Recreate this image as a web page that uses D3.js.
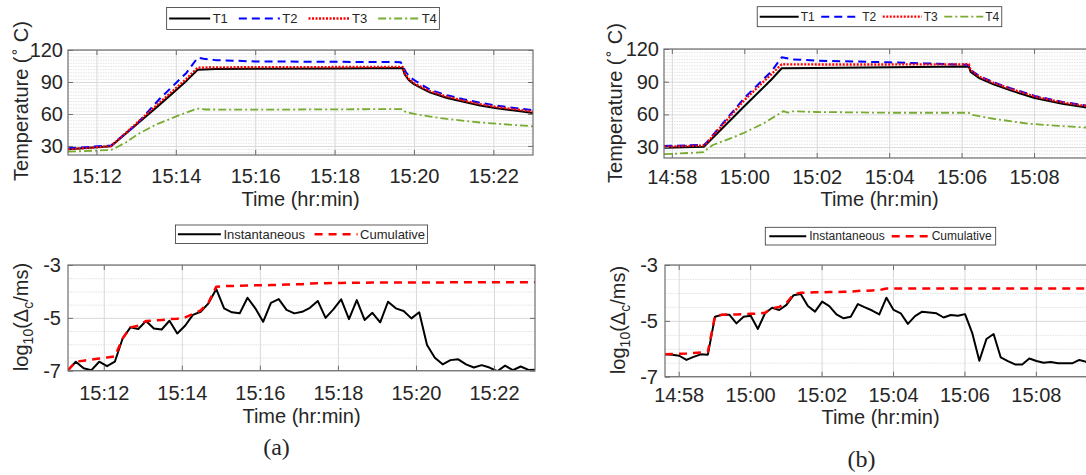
<!DOCTYPE html>
<html>
<head>
<meta charset="utf-8">
<script src="https://cdn.jsdelivr.net/npm/d3@7"></script>
<style>
  html, body { margin: 0; padding: 0; background: #fff; overflow: hidden; }
  svg { display: block; }
</style>
</head>
<body>
<svg id="fig" width="1086" height="475"></svg>
<script>
// ---- data ----
const tempNames = ["T1", "T2", "T3", "T4"];
const logNames = ["Instantaneous", "Cumulative"];
const tempTicks = [30, 60, 90, 120];
const logTicks = [-7, -5, -3];

// (a) temperatures [time, °C]
const t1A = [["15:11:17", 27.0], ["15:12:22", 29.8], ["15:13:36", 69], ["15:14:16", 91], ["15:14:33", 101.5],
  ["15:15:00", 102.1], ["15:16:00", 102.4], ["15:18:00", 102.7], ["15:19:43", 103.0], ["15:19:46", 97],
  ["15:19:52", 92], ["15:20:00", 88], ["15:20:12", 84], ["15:20:25", 80], ["15:20:50", 75], ["15:21:15", 71.5],
  ["15:21:40", 68], ["15:22:05", 65.3], ["15:22:35", 63], ["15:23:00", 61]];
const t2A = [["15:11:17", 27.8], ["15:12:22", 30.4], ["15:13:00", 50], ["15:13:36", 74.5], ["15:14:16", 98.5],
  ["15:14:33", 112.8], ["15:14:42", 111.8], ["15:15:00", 110.5], ["15:16:00", 109.3], ["15:19:40", 108.6],
  ["15:19:44", 104], ["15:19:48", 99], ["15:19:55", 94], ["15:20:05", 90], ["15:20:25", 82.5], ["15:20:50", 77.5],
  ["15:21:15", 73.8], ["15:21:40", 70.5], ["15:22:05", 67.8], ["15:22:35", 65.3], ["15:23:00", 63.5]];
const t3A = [["15:11:17", 26.8], ["15:12:22", 29.8], ["15:13:36", 71], ["15:14:16", 93], ["15:14:33", 103.5],
  ["15:15:30", 103.8], ["15:19:43", 104.2], ["15:19:46", 98], ["15:19:52", 93], ["15:20:00", 89], ["15:20:12", 85],
  ["15:20:25", 81.2], ["15:20:50", 76.2], ["15:21:15", 72.6], ["15:21:40", 69.2], ["15:22:05", 66.5],
  ["15:22:35", 64.2], ["15:23:00", 62.2]];
const t4A = [["15:11:17", 24.6], ["15:12:22", 26.2], ["15:12:30", 28.5], ["15:12:45", 33.5], ["15:13:04", 41.5],
  ["15:13:30", 50], ["15:14:06", 59], ["15:14:32", 65], ["15:14:45", 64.2], ["15:16:00", 64.0], ["15:19:43", 64.6],
  ["15:19:47", 62], ["15:20:00", 60], ["15:20:25", 57.5], ["15:20:50", 55.3], ["15:21:40", 52], ["15:22:35", 49.5],
  ["15:23:00", 48.4]];

// (b) temperatures [time, °C]
const t1B = [["14:57:47", 29.3], ["14:58:53", 30.3], ["14:58:58", 33], ["15:00:00", 67.5], ["15:00:45", 92],
  ["15:01:02", 102.3], ["15:02:00", 102.5], ["15:04:00", 103.3], ["15:06:12", 104], ["15:06:15", 99],
  ["15:06:30", 93], ["15:06:53", 87.5], ["15:07:21", 82], ["15:08:01", 75], ["15:08:47", 69.8], ["15:09:25", 66.5],
  ["15:10:00", 64]];
const t2B = [["14:57:47", 31.0], ["14:58:53", 32.0], ["14:58:58", 34.5], ["15:00:00", 75], ["15:00:45", 99.5],
  ["15:01:02", 112.4], ["15:01:20", 110.5], ["15:02:00", 109.3], ["15:04:00", 107.8], ["15:05:00", 106.8],
  ["15:06:10", 105.5], ["15:06:14", 101], ["15:06:30", 95], ["15:06:53", 89.5], ["15:07:21", 84], ["15:08:01", 77],
  ["15:08:47", 71.5], ["15:09:25", 68.2], ["15:10:00", 65.7]];
const t3B = [["14:57:47", 30.3], ["14:58:53", 31.5], ["14:58:58", 34], ["15:00:00", 73], ["15:00:45", 97],
  ["15:01:02", 106], ["15:02:00", 105.8], ["15:04:00", 105.8], ["15:06:12", 106], ["15:06:15", 100.5],
  ["15:06:30", 94.5], ["15:06:53", 89], ["15:07:21", 83.5], ["15:08:01", 76.5], ["15:08:47", 71], ["15:09:25", 67.8],
  ["15:10:00", 65.3]];
const t4B = [["14:57:47", 23.5], ["14:58:53", 25.3], ["14:58:58", 28], ["14:59:08", 31.9], ["14:59:35", 37.5],
  ["15:00:00", 43.2], ["15:00:32", 51.8], ["15:01:05", 63], ["15:01:12", 61.6], ["15:01:20", 62.8], ["15:02:00", 62.2],
  ["15:04:00", 61.5], ["15:06:12", 61.5], ["15:06:18", 59.5], ["15:06:53", 56], ["15:07:50", 51.5], ["15:08:40", 49.5],
  ["15:09:25", 48], ["15:10:00", 47.2]];

// (a) log10 of the indicator
const logTimesA = ["15:11:05", "15:11:17", "15:11:29", "15:11:41", "15:11:53", "15:12:05", "15:12:17", "15:12:29",
  "15:12:41", "15:12:53", "15:13:05", "15:13:17", "15:13:29", "15:13:41", "15:13:53", "15:14:05", "15:14:17",
  "15:14:29", "15:14:41", "15:14:53", "15:15:05", "15:15:17", "15:15:29", "15:15:41", "15:15:53", "15:16:05",
  "15:16:17", "15:16:29", "15:16:41", "15:16:53", "15:17:05", "15:17:17", "15:17:29", "15:17:41", "15:17:53",
  "15:18:05", "15:18:17", "15:18:29", "15:18:41", "15:18:53", "15:19:05", "15:19:17", "15:19:29", "15:19:41",
  "15:19:53", "15:20:05", "15:20:17", "15:20:29", "15:20:41", "15:20:53", "15:21:05", "15:21:17", "15:21:29",
  "15:21:41", "15:21:53", "15:22:05", "15:22:17", "15:22:29", "15:22:41", "15:22:53", "15:23:05"];
const instA = [-6.98, -6.66, -6.91, -6.98, -6.66, -6.83, -6.66, -5.78, -5.36, -5.42, -5.12, -5.40, -5.44, -5.11,
  -5.59, -5.30, -4.89, -4.77, -4.45, -3.91, -4.64, -4.79, -4.83, -4.24, -4.64, -5.15, -4.43, -4.29, -4.70, -4.83,
  -4.77, -4.62, -4.36, -5.00, -4.68, -4.30, -5.05, -4.33, -5.08, -4.81, -5.17, -4.39, -4.64, -4.74, -5.02, -4.79,
  -6.03, -6.51, -6.76, -6.60, -6.57, -6.76, -6.88, -6.79, -6.88, -7.02, -6.81, -6.98, -6.84, -6.97, -6.96];
const cumA = [-6.98, -6.66, -6.62, -6.58, -6.54, -6.50, -6.46, -5.78, -5.36, -5.30, -5.12, -5.10, -5.08, -5.05,
  -5.03, -4.98, -4.86, -4.72, -4.42, -3.82, -3.80, -3.79, -3.79, -3.78, -3.77, -3.77, -3.76, -3.75, -3.74, -3.73,
  -3.73, -3.70, -3.69, -3.69, -3.68, -3.68, -3.67, -3.67, -3.67, -3.66, -3.66, -3.66, -3.66, -3.66, -3.66, -3.66,
  -3.66, -3.66, -3.66, -3.65, -3.65, -3.65, -3.65, -3.65, -3.65, -3.65, -3.65, -3.65, -3.65, -3.65, -3.65];

// (b) log10 of the indicator
const logTimesB = ["14:57:37", "14:57:49", "14:58:01", "14:58:13", "14:58:25", "14:58:37", "14:58:49", "14:59:01",
  "14:59:13", "14:59:25", "14:59:37", "14:59:49", "15:00:01", "15:00:13", "15:00:25", "15:00:37", "15:00:49",
  "15:01:01", "15:01:13", "15:01:25", "15:01:37", "15:01:49", "15:02:01", "15:02:13", "15:02:25", "15:02:37",
  "15:02:49", "15:03:01", "15:03:13", "15:03:25", "15:03:37", "15:03:49", "15:04:01", "15:04:13", "15:04:25",
  "15:04:37", "15:04:49", "15:05:01", "15:05:13", "15:05:25", "15:05:37", "15:05:49", "15:06:01", "15:06:13",
  "15:06:25", "15:06:37", "15:06:49", "15:07:01", "15:07:13", "15:07:25", "15:07:37", "15:07:49", "15:08:01",
  "15:08:13", "15:08:25", "15:08:37", "15:08:49", "15:09:01", "15:09:13", "15:09:25", "15:09:37"];
const instB = [-6.20, -6.21, -6.25, -6.40, -6.29, -6.20, -6.21, -4.85, -4.78, -4.78, -5.09, -4.85, -4.82, -5.29,
  -4.73, -4.53, -4.61, -4.43, -4.08, -4.04, -4.47, -4.67, -4.31, -4.47, -4.77, -4.91, -4.85, -4.40, -4.52, -4.63,
  -4.77, -4.17, -4.61, -4.73, -5.11, -4.83, -4.67, -4.70, -4.73, -4.88, -4.79, -4.82, -4.76, -5.43, -6.43, -5.65,
  -5.47, -6.31, -6.44, -6.56, -6.56, -6.35, -6.44, -6.50, -6.47, -6.52, -6.52, -6.52, -6.40, -6.47, -6.46];
const cumB = [-6.20, -6.19, -6.18, -6.17, -6.15, -6.13, -6.11, -4.82, -4.78, -4.77, -4.77, -4.76, -4.75, -4.74,
  -4.71, -4.55, -4.50, -4.36, -4.05, -3.99, -3.99, -3.98, -3.98, -3.97, -3.97, -3.96, -3.95, -3.93, -3.92, -3.91,
  -3.90, -3.84, -3.84, -3.84, -3.84, -3.84, -3.84, -3.84, -3.84, -3.84, -3.84, -3.84, -3.84, -3.84, -3.84, -3.84,
  -3.84, -3.84, -3.84, -3.84, -3.84, -3.84, -3.84, -3.84, -3.84, -3.84, -3.84, -3.84, -3.84, -3.84, -3.84];

// ---- drawing ----
const parse = d3.timeParse("%H:%M:%S");
const fmt = d3.timeFormat("%H:%M");
const FONT = "'Liberation Sans', Arial, Helvetica, sans-serif";
const INK = "#262626";
const svg = d3.select("#fig");

const tempStyles = [
  { stroke: "#000000", width: 2, dash: null },
  { stroke: "#0000ff", width: 2, dash: "8,5" },
  { stroke: "#ff0000", width: 2.3, dash: "2,1.5" },
  { stroke: "#77ac30", width: 1.8, dash: "8,3,2,3" }
];
const logStyles = [
  { stroke: "#000000", width: 2, dash: null },
  { stroke: "#ff0000", width: 2.5, dash: "8,6" }
];

function pairs(times, vals) { return times.map((t, i) => [t, vals[i]]); }

function drawPanel(c) {
  const g = svg.append("g").attr("font-family", FONT);
  const x = d3.scaleTime().domain(c.xDomain.map(parse)).range([c.left, c.right]);
  const y = d3.scaleLinear().domain(c.yDomain).range([c.bottom, c.top]);
  const w = c.right - c.left, h = c.bottom - c.top;
  const every2 = d3.timeMinute.every(2);

  // minor + major grid
  g.append("g").attr("transform", `translate(${c.left},0)`)
    .call(d3.axisLeft(y).tickValues(c.minor).tickSize(-w).tickFormat(""))
    .call(s => s.select(".domain").remove())
    .selectAll("line").attr("stroke", "#e3e3e3").attr("stroke-dasharray", "1.5,1");
  g.append("g").attr("transform", `translate(${c.left},0)`)
    .call(d3.axisLeft(y).tickValues(c.yTicks).tickSize(-w).tickFormat(""))
    .call(s => s.select(".domain").remove())
    .selectAll("line").attr("stroke", "#d9d9d9");
  g.append("g").attr("transform", `translate(0,${c.bottom})`)
    .call(d3.axisBottom(x).ticks(every2).tickSize(-h).tickFormat(""))
    .call(s => s.select(".domain").remove())
    .selectAll("line").attr("stroke", "#d9d9d9");

  // curves
  const clipId = "clip-" + c.id;
  g.append("clipPath").attr("id", clipId).append("rect")
    .attr("x", c.left).attr("y", c.top).attr("width", w).attr("height", h);
  const plot = g.append("g").attr("clip-path", `url(#${clipId})`);
  const line = d3.line().x(d => x(parse(d[0]))).y(d => y(d[1]));
  c.series.forEach((s, i) => {
    const st = c.styles[i];
    plot.append("path").datum(s)
      .attr("fill", "none")
      .attr("stroke", st.stroke)
      .attr("stroke-width", st.width)
      .attr("stroke-dasharray", st.dash)
      .attr("stroke-linejoin", "round")
      .attr("d", line);
  });

  // frame and inward ticks
  g.append("rect").attr("x", c.left).attr("y", c.top).attr("width", w).attr("height", h)
    .attr("fill", "none").attr("stroke", "#6e6e6e").attr("stroke-width", 1.2);
  const tickAxes = [
    [d3.axisBottom(x).ticks(every2), `translate(0,${c.bottom})`],
    [d3.axisTop(x).ticks(every2), `translate(0,${c.top})`],
    [d3.axisLeft(y).tickValues(c.yTicks), `translate(${c.left},0)`],
    [d3.axisRight(y).tickValues(c.yTicks), `translate(${c.right},0)`]
  ];
  tickAxes.forEach(([ax, tr]) => {
    g.append("g").attr("transform", tr)
      .call(ax.tickSizeInner(-5).tickSizeOuter(0).tickFormat(""))
      .call(s => s.select(".domain").remove())
      .selectAll("line").attr("stroke", "#6e6e6e");
  });

  // tick labels
  const xl = g.append("g").attr("transform", `translate(0,${c.bottom})`)
    .call(d3.axisBottom(x).ticks(every2).tickSize(0).tickFormat(fmt));
  xl.attr("font-family", FONT).attr("font-size", 20).attr("color", INK);
  xl.select(".domain").remove();
  xl.selectAll("text").attr("y", c.xTickDy).attr("dy", null);

  const yl = g.append("g").attr("transform", `translate(${c.left},0)`)
    .call(d3.axisLeft(y).tickValues(c.yTicks).tickSize(0).tickPadding(c.yPad).tickFormat(d => String(d)));
  yl.attr("font-family", FONT).attr("font-size", 20).attr("color", INK);
  yl.select(".domain").remove();

  // axis titles
  g.append("text").attr("x", (c.left + c.right) / 2).attr("y", c.xLabelY)
    .attr("text-anchor", "middle").attr("font-size", 20).attr("fill", INK)
    .text("Time (hr:min)");
  const yt = g.append("text")
    .attr("transform", `translate(${c.yLabelX},${c.yLabelY}) rotate(-90)`)
    .attr("text-anchor", "middle").attr("font-size", 20).attr("fill", INK);
  c.yLabel(yt);

  // legend
  const L = c.legend;
  const lg = g.append("g");
  const box = lg.append("rect").attr("y", L.y).attr("height", L.h)
    .attr("fill", "#fff").attr("stroke", "#333").attr("stroke-width", 0.8);
  let cx = 0;
  const items = c.names.map((name, i) => {
    const st = c.styles[i];
    const it = lg.append("g");
    it.append("line").attr("x1", cx).attr("x2", cx + L.line)
      .attr("y1", L.y + L.h / 2).attr("y2", L.y + L.h / 2)
      .attr("stroke", st.stroke).attr("stroke-width", st.width).attr("stroke-dasharray", st.dash);
    const tx = it.append("text").attr("x", cx + L.line + L.gap).attr("y", L.y + L.h / 2)
      .attr("dy", "0.36em").attr("font-size", L.font).attr("fill", INK).text(name);
    cx += L.line + L.gap + tx.node().getComputedTextLength() + L.sep;
    return it;
  });
  const inner = cx - L.sep;
  const bw = inner + 2 * L.pad;
  const bx = (c.left + c.right) / 2 - bw / 2 + (L.shift || 0);
  box.attr("x", bx).attr("width", bw);
  items.forEach(it => it.attr("transform", `translate(${bx + L.pad},0)`));
}

function tempLabel(t) {
  t.append("tspan").text("Temperature (");
  t.append("tspan").attr("dy", -9).attr("font-size", 14)
    .attr("font-family", "'DejaVu Sans', sans-serif").text("\u2218");
  t.append("tspan").attr("dy", 9).text(" C)");
}
function logLabel(t) {
  t.append("tspan").text("log");
  t.append("tspan").attr("dy", 5).attr("font-size", 14).text("10");
  t.append("tspan").attr("dy", -5).text("(\u0394");
  t.append("tspan").attr("dy", 5).attr("font-size", 14).text("c");
  t.append("tspan").attr("dy", -5).text("/ms)");
}

const minorTemp = d3.range(21, 120, 3).filter(v => v % 30 !== 0);
const minorLog = d3.range(-6.5, -3, 0.5).filter(v => v !== -5);

drawPanel({
  id: "ta", left: 68, right: 533, top: 50, bottom: 155,
  xDomain: ["15:11:17", "15:23:00"], yDomain: [21.5, 120],
  yTicks: tempTicks, minor: minorTemp.filter(v => v > 21.5), yPad: 5,
  series: [t1A, t2A, t3A, t4A], styles: tempStyles, names: tempNames,
  xTickDy: 28, xLabelY: 206, yLabelX: 28, yLabelY: 101, yLabel: tempLabel,
  legend: { y: 7.5, h: 22, font: 13, line: 41, gap: 2.5, sep: 11, pad: 2.5, shift: 2.5 }
});
drawPanel({
  id: "tb", left: 664, right: 1095, top: 49, bottom: 158,
  xDomain: ["14:57:47", "15:09:41"], yDomain: [20, 120],
  yTicks: tempTicks, minor: minorTemp, yPad: 5,
  series: [t1B, t2B, t3B, t4B], styles: tempStyles, names: tempNames,
  xTickDy: 26, xLabelY: 206, yLabelX: 622, yLabelY: 103, yLabel: tempLabel,
  legend: { y: 6.7, h: 20, font: 12, line: 39, gap: 2, sep: 6.5, pad: 2.5 }
});
drawPanel({
  id: "la", left: 68, right: 535, top: 265, bottom: 370.7,
  xDomain: ["15:11:05", "15:23:03"], yDomain: [-7, -3],
  yTicks: logTicks, minor: minorLog, yPad: 7,
  series: [pairs(logTimesA, instA), pairs(logTimesA, cumA)], styles: logStyles, names: logNames,
  xTickDy: 29, xLabelY: 423, yLabelX: 28, yLabelY: 317, yLabel: logLabel,
  legend: { y: 225, h: 18.5, font: 13, line: 43, gap: 2.5, sep: 9.5, pad: 2.5 }
});
drawPanel({
  id: "lb", left: 665, right: 1096, top: 265, bottom: 376.7,
  xDomain: ["14:57:37", "15:09:41"], yDomain: [-7, -3],
  yTicks: logTicks, minor: minorLog, yPad: 7,
  series: [pairs(logTimesB, instB), pairs(logTimesB, cumB)], styles: logStyles, names: logNames,
  xTickDy: 25, xLabelY: 424, yLabelX: 625, yLabelY: 320, yLabel: logLabel,
  legend: { y: 227.3, h: 17.7, font: 12, line: 37, gap: 3, sep: 7, pad: 4 }
});

// sub-figure captions
svg.append("text").attr("x", 276.5).attr("y", 455).attr("text-anchor", "middle")
  .attr("font-family", "'Liberation Serif', 'Times New Roman', serif").attr("font-size", 24)
  .attr("fill", INK).text("(a)");
svg.append("text").attr("x", 861.6).attr("y", 467).attr("text-anchor", "middle")
  .attr("font-family", "'Liberation Serif', 'Times New Roman', serif").attr("font-size", 24)
  .attr("fill", INK).text("(b)");
</script>
</body>
</html>
